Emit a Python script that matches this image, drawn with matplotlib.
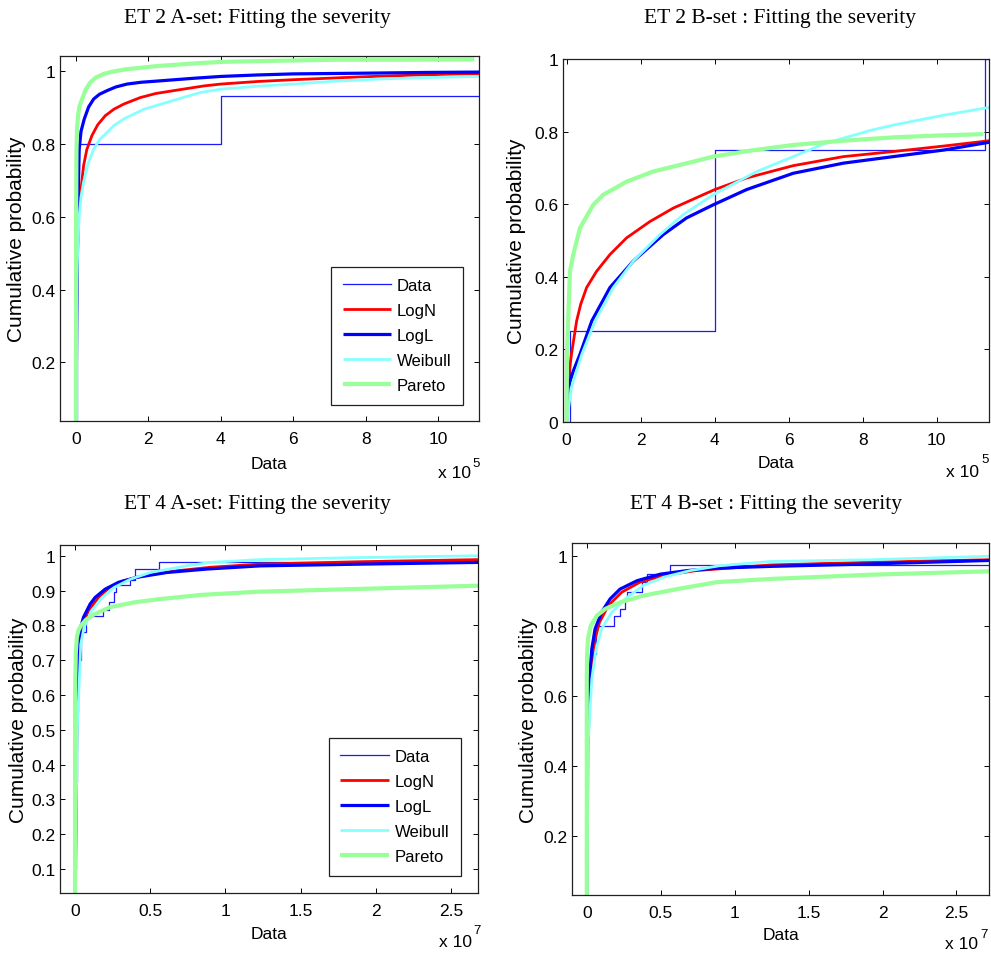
import matplotlib
matplotlib.use('Agg')
import matplotlib.pyplot as plt
import numpy as np

plt.rcParams['font.family'] = ['Liberation Sans', 'DejaVu Sans']

series_names = ['Data', 'LogN', 'LogL', 'Weibull', 'Pareto']
titles = ['ET 2 A-set: Fitting the severity', 'ET 2 B-set : Fitting the severity',
          'ET 4 A-set: Fitting the severity', 'ET 4 B-set : Fitting the severity']
exponents = ['5', '5', '7', '7']

# ---------------- ET 2 A-set (x in units of 1e5) ----------------
p1_data_jump_x = [0.03, 4.0]
p1_data_level = [0.8, 0.933]
p1_logn_x = [0.0, 0.01, 0.05, 0.07, 0.14, 0.21, 0.3, 0.44, 0.6, 0.81, 1.05, 1.32, 1.78, 2.2, 2.7, 3.54, 4.0, 5.0, 6.0, 7.9, 9.5, 11.13]
p1_logn_y = [0.0, 0.33, 0.51, 0.603, 0.676, 0.74, 0.785, 0.823, 0.853, 0.878, 0.896, 0.91, 0.928, 0.939, 0.947, 0.96, 0.965, 0.972, 0.977, 0.985, 0.99, 0.994]
p1_logl_x = [0.0, 0.02, 0.05, 0.07, 0.09, 0.14, 0.23, 0.35, 0.49, 0.65, 0.86, 1.1, 1.41, 1.8, 2.34, 3.26, 4.0, 5.0, 6.0, 8.0, 9.7, 11.13]
p1_logl_y = [0.0, 0.3, 0.603, 0.695, 0.786, 0.835, 0.869, 0.902, 0.924, 0.937, 0.947, 0.957, 0.965, 0.970, 0.974, 0.981, 0.986, 0.99, 0.993, 0.995, 0.997, 0.998]
p1_weib_x = [0.0, 0.01, 0.03, 0.05, 0.09, 0.14, 0.21, 0.33, 0.49, 0.65, 0.86, 1.05, 1.32, 1.88, 2.52, 3.44, 4.0, 5.0, 6.0, 7.0, 8.4, 9.7, 11.13]
p1_weib_y = [0.0, 0.3, 0.43, 0.512, 0.603, 0.655, 0.695, 0.745, 0.786, 0.812, 0.832, 0.851, 0.869, 0.896, 0.915, 0.942, 0.951, 0.959, 0.965, 0.972, 0.979, 0.983, 0.986]
p1_par_x = [0.0, 0.005, 0.015, 0.03, 0.06, 0.1, 0.17, 0.27, 0.4, 0.55, 0.77, 1.0, 1.4, 2.3, 3.3, 4.0, 5.5, 7.2, 9.0, 11.0]
p1_par_y = [0.0, 0.60, 0.78, 0.841, 0.88, 0.905, 0.924, 0.95, 0.97, 0.983, 0.993, 0.999, 1.006, 1.015, 1.022, 1.026, 1.029, 1.032, 1.032, 1.033]

# ---------------- ET 2 B-set (x in units of 1e5) ----------------
p2_data_jump_x = [0.09, 4.0, 11.3]
p2_data_level = [0.25, 0.75, 1.0]
p2_logn_x = [0.0, 0.02, 0.13, 0.27, 0.38, 0.54, 0.81, 1.17, 1.62, 2.25, 2.88, 3.69, 4.0, 4.86, 6.12, 7.48, 8.83, 10.18, 11.44]
p2_logn_y = [0.0, 0.095, 0.186, 0.278, 0.324, 0.37, 0.415, 0.461, 0.507, 0.552, 0.589, 0.626, 0.64, 0.672, 0.706, 0.731, 0.745, 0.76, 0.775]
p2_logl_x = [0.0, 0.04, 0.18, 0.36, 0.68, 1.17, 1.8, 2.61, 3.24, 3.96, 4.86, 6.12, 7.48, 8.83, 10.18, 11.44]
p2_logl_y = [0.0, 0.095, 0.14, 0.186, 0.278, 0.37, 0.443, 0.516, 0.562, 0.598, 0.64, 0.685, 0.713, 0.731, 0.749, 0.771]
p2_weib_x = [0.0, 0.13, 0.41, 0.77, 1.26, 1.8, 2.52, 3.15, 3.96, 5.14, 6.12, 7.0, 7.48, 8.2, 8.83, 10.18, 11.44]
p2_weib_y = [0.0, 0.095, 0.186, 0.278, 0.37, 0.443, 0.516, 0.571, 0.626, 0.69, 0.731, 0.768, 0.782, 0.803, 0.818, 0.845, 0.867]
p2_par_x = [0.0, 0.01, 0.04, 0.09, 0.18, 0.36, 0.72, 0.99, 1.31, 1.62, 2.34, 3.42, 3.96, 5.0, 6.12, 7.5, 8.83, 10.0, 11.26]
p2_par_y = [0.0, 0.186, 0.278, 0.415, 0.461, 0.534, 0.598, 0.626, 0.644, 0.662, 0.69, 0.717, 0.731, 0.748, 0.763, 0.775, 0.784, 0.789, 0.793]

# ---------------- ET 4 A-set (x in units of 1e7) ----------------
p3_data_jump_x = [0.002, 0.005, 0.01, 0.02, 0.04, 0.07, 0.189, 0.229, 0.256, 0.273, 0.367, 0.4, 0.556]
p3_data_level = [0.1, 0.35, 0.55, 0.7, 0.78, 0.828, 0.845, 0.868, 0.895, 0.916, 0.931, 0.962, 0.981]
p3_logn_x = [0.0, 0.012, 0.025, 0.044, 0.089, 0.156, 0.23, 0.32, 0.46, 0.68, 0.9, 1.23, 1.9, 2.68]
p3_logn_y = [0.0, 0.5, 0.70, 0.794, 0.842, 0.88, 0.909, 0.928, 0.943, 0.957, 0.967, 0.976, 0.983, 0.989]
p3_logl_x = [0.0, 0.01, 0.022, 0.038, 0.056, 0.1, 0.133, 0.2, 0.29, 0.41, 0.61, 0.88, 1.23, 1.9, 2.68]
p3_logl_y = [0.0, 0.5, 0.746, 0.794, 0.823, 0.861, 0.88, 0.904, 0.924, 0.938, 0.952, 0.962, 0.971, 0.976, 0.981]
p3_weib_x = [0.0, 0.015, 0.038, 0.06, 0.11, 0.18, 0.26, 0.37, 0.5, 0.74, 0.9, 1.23, 1.9, 2.68]
p3_weib_y = [0.0, 0.5, 0.746, 0.794, 0.842, 0.88, 0.909, 0.933, 0.952, 0.971, 0.981, 0.989, 0.995, 1.0]
p3_par_x = [0.0, 0.0, 0.005, 0.012, 0.022, 0.04, 0.07, 0.12, 0.23, 0.39, 0.57, 0.85, 1.23, 1.9, 2.68]
p3_par_y = [0.0, 0.6, 0.72, 0.765, 0.785, 0.80, 0.815, 0.83, 0.852, 0.866, 0.876, 0.888, 0.897, 0.905, 0.914]

# ---------------- ET 4 B-set (x in units of 1e7) ----------------
p4_data_jump_x = [0.001, 0.007, 0.016, 0.03, 0.06, 0.187, 0.225, 0.259, 0.27, 0.372, 0.405, 0.563]
p4_data_level = [0.496, 0.572, 0.649, 0.72, 0.8, 0.828, 0.849, 0.873, 0.897, 0.926, 0.949, 0.975]
p4_logn_x = [0.0, 0.008, 0.023, 0.056, 0.086, 0.146, 0.236, 0.36, 0.52, 0.74, 1.24, 1.91, 2.72]
p4_logn_y = [0.0, 0.45, 0.649, 0.763, 0.811, 0.859, 0.897, 0.926, 0.945, 0.959, 0.975, 0.983, 0.99]
p4_logl_x = [0.0, 0.003, 0.005, 0.018, 0.034, 0.056, 0.1, 0.158, 0.225, 0.34, 0.5, 0.68, 0.88, 1.24, 1.91, 2.72]
p4_logl_y = [0.0, 0.3, 0.477, 0.649, 0.735, 0.792, 0.84, 0.878, 0.906, 0.93, 0.949, 0.959, 0.966, 0.971, 0.978, 0.988]
p4_weib_x = [0.0, 0.011, 0.034, 0.063, 0.1, 0.17, 0.26, 0.38, 0.52, 0.7, 0.9, 1.24, 1.91, 2.72]
p4_weib_y = [0.0, 0.477, 0.649, 0.735, 0.792, 0.84, 0.878, 0.916, 0.94, 0.959, 0.973, 0.985, 0.99, 1.0]
p4_par_x = [0.0, 0.0, 0.0, 0.002, 0.008, 0.027, 0.068, 0.124, 0.225, 0.38, 0.61, 0.88, 1.24, 1.91, 2.72]
p4_par_y = [0.0, 0.5, 0.649, 0.716, 0.763, 0.801, 0.83, 0.849, 0.868, 0.887, 0.906, 0.926, 0.935, 0.947, 0.957]

# ticks
p1_xticks = [0, 2, 4, 6, 8, 10]
p1_yticks = [0.2, 0.4, 0.6, 0.8, 1.0]
p2_xticks = [0, 2, 4, 6, 8, 10]
p2_yticks = [0, 0.2, 0.4, 0.6, 0.8, 1.0]
p3_xticks = [0, 0.5, 1, 1.5, 2, 2.5]
p3_yticks = [0.1, 0.2, 0.3, 0.4, 0.5, 0.6, 0.7, 0.8, 0.9, 1.0]
p4_xticks = [0, 0.5, 1, 1.5, 2, 2.5]
p4_yticks = [0.2, 0.4, 0.6, 0.8, 1.0]

colors = {'Data': '#1a1aff', 'LogN': '#ff0000', 'LogL': '#0000ff',
          'Weibull': '#88ffff', 'Pareto': '#99ff99'}
widths = {'Data': 0.9, 'LogN': 2.0, 'LogL': 2.3, 'Weibull': 2.0, 'Pareto': 3.0}

W, H = 991, 954


def rect(l, t, r, b):
    return [l / W, 1 - b / H, (r - l) / W, (b - t) / H]


def fmt(v):
    return '%g' % v


panels = [
    dict(rect=rect(60, 56.7, 479, 422.3), xlim=(-0.44, 11.13), ylim=(0.038, 1.043),
         data=(p1_data_jump_x, p1_data_level),
         curves=[(p1_logn_x, p1_logn_y), (p1_logl_x, p1_logl_y), (p1_weib_x, p1_weib_y), (p1_par_x, p1_par_y)],
         xticks=p1_xticks, yticks=p1_yticks, legend=(0.962, 0.045),
         ylab_x=-0.081, xlab_y=-0.095, off=(0.980, -0.141, 0.984, -0.114)),
    dict(rect=rect(563.3, 60, 989, 422.8), xlim=(-0.09, 11.41), ylim=(0.0, 1.0),
         data=(p2_data_jump_x, p2_data_level),
         curves=[(p2_logn_x, p2_logn_y), (p2_logl_x, p2_logl_y), (p2_weib_x, p2_weib_y), (p2_par_x, p2_par_y)],
         xticks=p2_xticks, yticks=p2_yticks, legend=None,
         ylab_x=-0.088, xlab_y=-0.0915, off=(0.977, -0.136, 0.981, -0.103)),
    dict(rect=rect(60, 546, 478, 894), xlim=(-0.1, 2.68), ylim=(0.031, 1.031),
         data=(p3_data_jump_x, p3_data_level),
         curves=[(p3_logn_x, p3_logn_y), (p3_logl_x, p3_logl_y), (p3_weib_x, p3_weib_y), (p3_par_x, p3_par_y)],
         xticks=p3_xticks, yticks=p3_yticks, legend=(0.959, 0.049),
         ylab_x=-0.077, xlab_y=-0.094, off=(0.985, -0.138, 0.988, -0.106)),
    dict(rect=rect(572, 544, 989, 896), xlim=(-0.1, 2.72), ylim=(0.03, 1.038),
         data=(p4_data_jump_x, p4_data_level),
         curves=[(p4_logn_x, p4_logn_y), (p4_logl_x, p4_logl_y), (p4_weib_x, p4_weib_y), (p4_par_x, p4_par_y)],
         xticks=p4_xticks, yticks=p4_yticks, legend=None,
         ylab_x=-0.082, xlab_y=-0.091, off=(0.974, -0.139, 0.978, -0.111)),
]

title_pos = [(257 / W, 1 - 19 / H), (780 / W, 1 - 19 / H), (257 / W, 1 - 505 / H), (766 / W, 1 - 505 / H)]

fig = plt.figure(figsize=(W / 100, H / 100), dpi=100)

for i, p in enumerate(panels):
    ax = fig.add_axes(p['rect'])
    jx, lv = p['data']
    xs = [jx[0]] + list(jx) + [p['xlim'][1]]
    ys = [0.0] + list(lv) + [lv[-1]]
    ax.step(xs, ys, where='post', color=colors['Data'], lw=widths['Data'], label='Data')
    for name, (cx, cy) in zip(series_names[1:], p['curves']):
        ax.plot(cx, cy, color=colors[name], lw=widths[name], label=name,
                solid_joinstyle='round', solid_capstyle='butt')
    ax.set_xlim(*p['xlim'])
    ax.set_ylim(*p['ylim'])
    ax.set_xticks(p['xticks'])
    ax.set_xticklabels([fmt(v) for v in p['xticks']])
    ax.set_yticks(p['yticks'])
    ax.set_yticklabels([fmt(v) for v in p['yticks']])
    ax.tick_params(direction='in', top=True, right=True, length=3.6, width=0.7,
                   labelsize=12.5, colors='k')
    ax.tick_params(axis='x', pad=7)
    ax.tick_params(axis='y', pad=3.5)
    for s in ax.spines.values():
        s.set_linewidth(0.9)
        s.set_color('#202020')
    ax.set_xlabel('Data', fontsize=12.5)
    ax.xaxis.set_label_coords(0.5, p['xlab_y'])
    ax.set_ylabel('Cumulative probability', fontsize=15)
    ax.yaxis.set_label_coords(p['ylab_x'], 0.5)
    ox, oy, ex, ey = p['off']
    ax.text(ox, oy, 'x 10', transform=ax.transAxes, ha='right', va='center', fontsize=12.5)
    ax.text(ex, ey, exponents[i], transform=ax.transAxes, ha='left', va='center', fontsize=9.5)
    if p['legend'] is not None:
        leg = ax.legend(loc='lower right', bbox_to_anchor=p['legend'], fontsize=12,
                        handlelength=2.9, handletextpad=0.35, labelspacing=0.6,
                        borderpad=0.7, fancybox=False, framealpha=1, edgecolor='#202020',
                        borderaxespad=0)
        leg.get_frame().set_linewidth(0.9)
    tx, ty = title_pos[i]
    fig.text(tx, ty, titles[i], ha='center', va='center', fontsize=15.5,
             family=['Liberation Serif', 'DejaVu Serif'])

fig.savefig('out.png', dpi=100)
